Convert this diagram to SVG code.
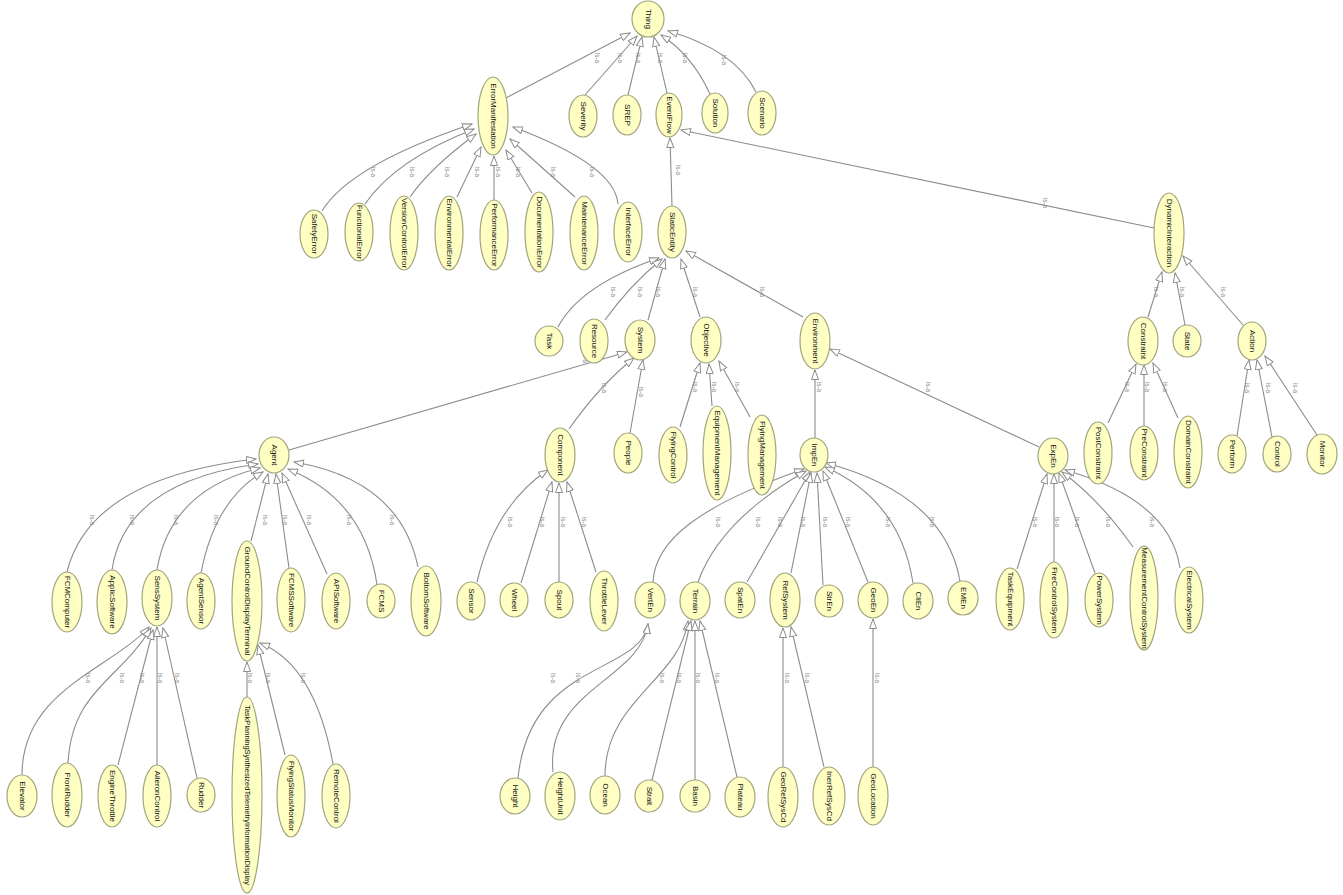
<svg xmlns="http://www.w3.org/2000/svg" width="1343" height="895" viewBox="0 0 1343 895">
<style>
.n ellipse{fill:#ffffc4;stroke:#a3a37c;stroke-width:1.2}
.n text{font-family:"Liberation Sans",Arial,sans-serif;font-size:8px;fill:#111;text-anchor:middle;dominant-baseline:central}
.e path{fill:none;stroke:#8c8c8c;stroke-width:1.1;marker-end:url(#a)}
.e text{font-family:"Liberation Sans",Arial,sans-serif;font-size:6.5px;fill:#8a8a8a;text-anchor:middle;dominant-baseline:central}
</style>
<defs>
<marker id="a" markerWidth="11" markerHeight="9" refX="10" refY="4" orient="auto" markerUnits="userSpaceOnUse">
<path d="M0.5,0.5 L10,4 L0.5,7.5 z" fill="#fff" stroke="#8c8c8c" stroke-width="1"/>
</marker>
</defs>
<rect width="1343" height="895" fill="#fff"/>
<g class="e" id="connectors">
<path d="M506,98 L630,33"/><text x="597" y="58" transform="rotate(90 597 58)">is-a</text>
<path d="M585,95 L637,36"/><text x="620" y="58" transform="rotate(90 620 58)">is-a</text>
<path d="M628,95 L642,37"/><text x="638" y="58" transform="rotate(90 638 58)">is-a</text>
<path d="M667,93 L654,37"/><text x="660" y="58" transform="rotate(90 660 58)">is-a</text>
<path d="M710,94 Q692,55 661,35"/><text x="685" y="58" transform="rotate(90 685 58)">is-a</text>
<path d="M756,92 Q735,50 668,31"/><text x="724" y="60" transform="rotate(90 724 60)">is-a</text>
<path d="M322,211 Q350,165 472,124"/><text x="373" y="172" transform="rotate(90 373 172)">is-a</text>
<path d="M365,204 Q395,160 474,129"/><text x="412" y="172" transform="rotate(90 412 172)">is-a</text>
<path d="M410,197 Q430,168 476,134"/><text x="447" y="172" transform="rotate(90 447 172)">is-a</text>
<path d="M457,197 L481,147"/><text x="477" y="172" transform="rotate(90 477 172)">is-a</text>
<path d="M494,200 L494,156"/><text x="498" y="172" transform="rotate(90 498 172)">is-a</text>
<path d="M532,193 L506,150"/><text x="518" y="172" transform="rotate(90 518 172)">is-a</text>
<path d="M575,197 L510,139"/><text x="553" y="172" transform="rotate(90 553 172)">is-a</text>
<path d="M618,204 Q615,165 513,127"/><text x="592" y="172" transform="rotate(90 592 172)">is-a</text>
<path d="M672,206 L670,138"/><text x="678" y="170" transform="rotate(90 678 170)">is-a</text>
<path d="M1154,228 L681,130"/><text x="1045" y="203" transform="rotate(90 1045 203)">is-a</text>
<path d="M558,327 Q580,285 659,258"/><text x="613" y="292" transform="rotate(90 613 292)">is-a</text>
<path d="M605,320 Q630,285 662,259"/><text x="640" y="292" transform="rotate(90 640 292)">is-a</text>
<path d="M648,320 L665,259"/><text x="658" y="292" transform="rotate(90 658 292)">is-a</text>
<path d="M700,317 L681,259"/><text x="695" y="292" transform="rotate(90 695 292)">is-a</text>
<path d="M803,317 L686,251"/><text x="762" y="292" transform="rotate(90 762 292)">is-a</text>
<path d="M1148,317 L1162,272"/><text x="1156" y="292" transform="rotate(90 1156 292)">is-a</text>
<path d="M1185,325 L1175,273"/><text x="1182" y="292" transform="rotate(90 1182 292)">is-a</text>
<path d="M1243,325 L1183,256"/><text x="1223" y="292" transform="rotate(90 1223 292)">is-a</text>
<path d="M1108,423 L1136,364"/><text x="1127" y="387" transform="rotate(90 1127 387)">is-a</text>
<path d="M1144,426 L1144,365"/><text x="1147" y="387" transform="rotate(90 1147 387)">is-a</text>
<path d="M1178,418 L1153,363"/><text x="1165" y="387" transform="rotate(90 1165 387)">is-a</text>
<path d="M1237,436 L1249,360"/><text x="1247" y="388" transform="rotate(90 1247 388)">is-a</text>
<path d="M1272,437 L1257,360"/><text x="1268" y="388" transform="rotate(90 1268 388)">is-a</text>
<path d="M1317,435 L1265,356"/><text x="1295" y="388" transform="rotate(90 1295 388)">is-a</text>
<path d="M289,450 L627,352"/><text x="585" y="358" transform="rotate(90 585 358)">is-a</text>
<path d="M569,429 Q600,385 634,358"/><text x="604" y="388" transform="rotate(90 604 388)">is-a</text>
<path d="M630,433 L643,360"/><text x="641" y="392" transform="rotate(90 641 392)">is-a</text>
<path d="M680,427 L700,363"/><text x="695" y="387" transform="rotate(90 695 387)">is-a</text>
<path d="M712,406 L709,364"/><text x="714" y="387" transform="rotate(90 714 387)">is-a</text>
<path d="M750,417 L719,361"/><text x="737" y="387" transform="rotate(90 737 387)">is-a</text>
<path d="M815,438 L815,370"/><text x="819" y="387" transform="rotate(90 819 387)">is-a</text>
<path d="M1039,447 L830,349"/><text x="928" y="387" transform="rotate(90 928 387)">is-a</text>
<path d="M67,572 Q90,478 256,459"/><text x="92" y="520" transform="rotate(90 92 520)">is-a</text>
<path d="M112,570 Q125,482 258,464"/><text x="132" y="520" transform="rotate(90 132 520)">is-a</text>
<path d="M157,570 Q170,490 260,468"/><text x="176" y="520" transform="rotate(90 176 520)">is-a</text>
<path d="M201,573 Q215,500 263,472"/><text x="216" y="520" transform="rotate(90 216 520)">is-a</text>
<path d="M251,541 L268,474"/><text x="265" y="520" transform="rotate(90 265 520)">is-a</text>
<path d="M289,568 L276,474"/><text x="285" y="520" transform="rotate(90 285 520)">is-a</text>
<path d="M327,574 L282,473"/><text x="309" y="520" transform="rotate(90 309 520)">is-a</text>
<path d="M377,585 Q365,500 288,469"/><text x="349" y="520" transform="rotate(90 349 520)">is-a</text>
<path d="M418,567 Q400,480 294,462"/><text x="392" y="520" transform="rotate(90 392 520)">is-a</text>
<path d="M477,582 Q495,505 548,470"/><text x="510" y="522" transform="rotate(90 510 522)">is-a</text>
<path d="M521,583 L552,482"/><text x="542" y="522" transform="rotate(90 542 522)">is-a</text>
<path d="M559,582 L559,483"/><text x="563" y="522" transform="rotate(90 563 522)">is-a</text>
<path d="M596,572 L567,482"/><text x="584" y="522" transform="rotate(90 584 522)">is-a</text>
<path d="M653,582 C655,540 700,505 804,469"/><text x="718" y="522" transform="rotate(90 718 522)">is-a</text>
<path d="M698,582 Q720,520 806,471"/><text x="758" y="522" transform="rotate(90 758 522)">is-a</text>
<path d="M747,582 L810,472"/><text x="780" y="522" transform="rotate(90 780 522)">is-a</text>
<path d="M791,573 L811,473"/><text x="803" y="522" transform="rotate(90 803 522)">is-a</text>
<path d="M823,585 L817,473"/><text x="825" y="522" transform="rotate(90 825 522)">is-a</text>
<path d="M868,582 L823,471"/><text x="848" y="522" transform="rotate(90 848 522)">is-a</text>
<path d="M913,583 Q900,500 825,467"/><text x="888" y="522" transform="rotate(90 888 522)">is-a</text>
<path d="M960,581 Q945,495 826,463"/><text x="932" y="522" transform="rotate(90 932 522)">is-a</text>
<path d="M1017,569 L1047,474"/><text x="1035" y="522" transform="rotate(90 1035 522)">is-a</text>
<path d="M1054,562 L1054,474"/><text x="1057" y="522" transform="rotate(90 1057 522)">is-a</text>
<path d="M1095,573 L1059,473"/><text x="1077" y="522" transform="rotate(90 1077 522)">is-a</text>
<path d="M1133,547 Q1100,500 1062,472"/><text x="1108" y="522" transform="rotate(90 1108 522)">is-a</text>
<path d="M1180,568 Q1170,500 1065,470"/><text x="1152" y="522" transform="rotate(90 1152 522)">is-a</text>
<path d="M22,775 C22,690 110,670 149,627"/><text x="88" y="678" transform="rotate(90 88 678)">is-a</text>
<path d="M68,763 C72,690 120,680 151,628"/><text x="122" y="678" transform="rotate(90 122 678)">is-a</text>
<path d="M118,765 L153,630"/><text x="142" y="678" transform="rotate(90 142 678)">is-a</text>
<path d="M157,765 L157,627"/><text x="160" y="678" transform="rotate(90 160 678)">is-a</text>
<path d="M197,778 L163,628"/><text x="177" y="678" transform="rotate(90 177 678)">is-a</text>
<path d="M247,697 L247,662"/><text x="250" y="678" transform="rotate(90 250 678)">is-a</text>
<path d="M285,755 L258,645"/><text x="268" y="678" transform="rotate(90 268 678)">is-a</text>
<path d="M333,764 Q315,665 260,643"/><text x="303" y="678" transform="rotate(90 303 678)">is-a</text>
<path d="M518,778 C530,660 640,675 648,624"/><text x="553" y="678" transform="rotate(90 553 678)">is-a</text>
<path d="M553,772 C545,690 640,680 648,624"/><text x="578" y="678" transform="rotate(90 578 678)">is-a</text>
<path d="M605,776 C605,700 680,680 688,621"/><text x="662" y="678" transform="rotate(90 662 678)">is-a</text>
<path d="M652,780 L691,621"/><text x="679" y="678" transform="rotate(90 679 678)">is-a</text>
<path d="M695,780 L695,621"/><text x="698" y="678" transform="rotate(90 698 678)">is-a</text>
<path d="M737,777 L700,621"/><text x="717" y="678" transform="rotate(90 717 678)">is-a</text>
<path d="M783,767 L783,628"/><text x="787" y="678" transform="rotate(90 787 678)">is-a</text>
<path d="M824,767 L791,627"/><text x="807" y="678" transform="rotate(90 807 678)">is-a</text>
<path d="M873,767 L873,619"/><text x="877" y="678" transform="rotate(90 877 678)">is-a</text>
</g>
<g class="n" id="Thing"><ellipse cx="648" cy="19" rx="16" ry="18"/><text x="648" y="19" transform="rotate(90 648 19)">Thing</text></g>
<g class="n" id="ErrorManifestation"><ellipse cx="493" cy="116" rx="15" ry="39"/><text x="493" y="116" transform="rotate(90 493 116)">ErrorManifestation</text></g>
<g class="n" id="Severity"><ellipse cx="583" cy="116" rx="14" ry="21"/><text x="583" y="116" transform="rotate(90 583 116)">Severity</text></g>
<g class="n" id="SREP"><ellipse cx="627" cy="115" rx="14" ry="20"/><text x="627" y="115" transform="rotate(90 627 115)">SREP</text></g>
<g class="n" id="EventFlow"><ellipse cx="669" cy="115" rx="13" ry="22"/><text x="669" y="115" transform="rotate(90 669 115)">EventFlow</text></g>
<g class="n" id="Solution"><ellipse cx="715" cy="113" rx="13" ry="20"/><text x="715" y="113" transform="rotate(90 715 113)">Solution</text></g>
<g class="n" id="Scenario"><ellipse cx="762" cy="113" rx="14" ry="22"/><text x="762" y="113" transform="rotate(90 762 113)">Scenario</text></g>
<g class="n" id="SafetyError"><ellipse cx="314" cy="234" rx="14" ry="24"/><text x="314" y="234" transform="rotate(90 314 234)">SafetyError</text></g>
<g class="n" id="FunctionalError"><ellipse cx="359" cy="232" rx="14" ry="29"/><text x="359" y="232" transform="rotate(90 359 232)">FunctionalError</text></g>
<g class="n" id="VersionControlError"><ellipse cx="404" cy="233" rx="14" ry="37"/><text x="404" y="233" transform="rotate(90 404 233)">VersionControlError</text></g>
<g class="n" id="EnvironmentalError"><ellipse cx="449" cy="233" rx="14" ry="37"/><text x="449" y="233" transform="rotate(90 449 233)">EnvironmentalError</text></g>
<g class="n" id="PerformanceError"><ellipse cx="494" cy="235" rx="14" ry="35"/><text x="494" y="235" transform="rotate(90 494 235)">PerformanceError</text></g>
<g class="n" id="DocumentationError"><ellipse cx="539" cy="232" rx="14" ry="40"/><text x="539" y="232" transform="rotate(90 539 232)">DocumentationError</text></g>
<g class="n" id="MaintenanceError"><ellipse cx="584" cy="233" rx="14" ry="37"/><text x="584" y="233" transform="rotate(90 584 233)">MaintenanceError</text></g>
<g class="n" id="InterfaceError"><ellipse cx="628" cy="232" rx="14" ry="30"/><text x="628" y="232" transform="rotate(90 628 232)">InterfaceError</text></g>
<g class="n" id="StaticEntity"><ellipse cx="672" cy="232" rx="14" ry="26"/><text x="672" y="232" transform="rotate(90 672 232)">StaticEntity</text></g>
<g class="n" id="DynamicInteraction"><ellipse cx="1169" cy="233" rx="15" ry="40"/><text x="1169" y="233" transform="rotate(90 1169 233)">DynamicInteraction</text></g>
<g class="n" id="Task"><ellipse cx="549" cy="341" rx="14" ry="15"/><text x="549" y="341" transform="rotate(90 549 341)">Task</text></g>
<g class="n" id="Resource"><ellipse cx="594" cy="341" rx="14" ry="22"/><text x="594" y="341" transform="rotate(90 594 341)">Resource</text></g>
<g class="n" id="System"><ellipse cx="640" cy="340" rx="15" ry="20"/><text x="640" y="340" transform="rotate(90 640 340)">System</text></g>
<g class="n" id="Objective"><ellipse cx="706" cy="340" rx="15" ry="23"/><text x="706" y="340" transform="rotate(90 706 340)">Objective</text></g>
<g class="n" id="Environment"><ellipse cx="815" cy="341" rx="15" ry="28"/><text x="815" y="341" transform="rotate(90 815 341)">Environment</text></g>
<g class="n" id="Constraint"><ellipse cx="1143" cy="341" rx="15" ry="24"/><text x="1143" y="341" transform="rotate(90 1143 341)">Constraint</text></g>
<g class="n" id="State"><ellipse cx="1187" cy="341" rx="14" ry="16"/><text x="1187" y="341" transform="rotate(90 1187 341)">State</text></g>
<g class="n" id="Action"><ellipse cx="1252" cy="341" rx="14" ry="19"/><text x="1252" y="341" transform="rotate(90 1252 341)">Action</text></g>
<g class="n" id="PostConstraint"><ellipse cx="1098" cy="453" rx="14" ry="31"/><text x="1098" y="453" transform="rotate(90 1098 453)">PostConstraint</text></g>
<g class="n" id="PreConstraint"><ellipse cx="1144" cy="453" rx="14" ry="27"/><text x="1144" y="453" transform="rotate(90 1144 453)">PreConstraint</text></g>
<g class="n" id="DomainConstraint"><ellipse cx="1188" cy="452" rx="14" ry="36"/><text x="1188" y="452" transform="rotate(90 1188 452)">DomainConstraint</text></g>
<g class="n" id="Perform"><ellipse cx="1232" cy="454" rx="14" ry="19"/><text x="1232" y="454" transform="rotate(90 1232 454)">Perform</text></g>
<g class="n" id="Control"><ellipse cx="1277" cy="454" rx="14" ry="18"/><text x="1277" y="454" transform="rotate(90 1277 454)">Control</text></g>
<g class="n" id="Monitor"><ellipse cx="1322" cy="454" rx="15" ry="20"/><text x="1322" y="454" transform="rotate(90 1322 454)">Monitor</text></g>
<g class="n" id="Agent"><ellipse cx="274" cy="455" rx="15" ry="18"/><text x="274" y="455" transform="rotate(90 274 455)">Agent</text></g>
<g class="n" id="Component"><ellipse cx="560" cy="455" rx="15" ry="27"/><text x="560" y="455" transform="rotate(90 560 455)">Component</text></g>
<g class="n" id="People"><ellipse cx="628" cy="453" rx="14" ry="20"/><text x="628" y="453" transform="rotate(90 628 453)">People</text></g>
<g class="n" id="FlyingControl"><ellipse cx="673" cy="455" rx="14" ry="28"/><text x="673" y="455" transform="rotate(90 673 455)">FlyingControl</text></g>
<g class="n" id="EquipmentManagement"><ellipse cx="717" cy="453" rx="14" ry="47"/><text x="717" y="453" transform="rotate(90 717 453)">EquipmentManagement</text></g>
<g class="n" id="FlyingManagement"><ellipse cx="762" cy="455" rx="14" ry="40"/><text x="762" y="455" transform="rotate(90 762 455)">FlyingManagement</text></g>
<g class="n" id="ImpEn"><ellipse cx="814" cy="455" rx="14" ry="17"/><text x="814" y="455" transform="rotate(90 814 455)">ImpEn</text></g>
<g class="n" id="ExpEn"><ellipse cx="1053" cy="456" rx="15" ry="18"/><text x="1053" y="456" transform="rotate(90 1053 456)">ExpEn</text></g>
<g class="n" id="FCMComputer"><ellipse cx="67" cy="602" rx="15" ry="30"/><text x="67" y="602" transform="rotate(90 67 602)">FCMComputer</text></g>
<g class="n" id="ApplicSoftware"><ellipse cx="112" cy="602" rx="15" ry="32"/><text x="112" y="602" transform="rotate(90 112 602)">ApplicSoftware</text></g>
<g class="n" id="SensSystem"><ellipse cx="157" cy="598" rx="15" ry="28"/><text x="157" y="598" transform="rotate(90 157 598)">SensSystem</text></g>
<g class="n" id="AgentSensor"><ellipse cx="201" cy="601" rx="14" ry="28"/><text x="201" y="601" transform="rotate(90 201 601)">AgentSensor</text></g>
<g class="n" id="GroundControlDisplayTerminal"><ellipse cx="247" cy="601" rx="15" ry="60"/><text x="247" y="601" transform="rotate(90 247 601)">GroundControlDisplayTerminal</text></g>
<g class="n" id="FCMSSoftware"><ellipse cx="291" cy="600" rx="14" ry="32"/><text x="291" y="600" transform="rotate(90 291 600)">FCMSSoftware</text></g>
<g class="n" id="APISoftware"><ellipse cx="336" cy="601" rx="14" ry="28"/><text x="336" y="601" transform="rotate(90 336 601)">APISoftware</text></g>
<g class="n" id="FCMS"><ellipse cx="381" cy="601" rx="14" ry="17"/><text x="381" y="601" transform="rotate(90 381 601)">FCMS</text></g>
<g class="n" id="BottomSoftware"><ellipse cx="426" cy="601" rx="15" ry="35"/><text x="426" y="601" transform="rotate(90 426 601)">BottomSoftware</text></g>
<g class="n" id="Sensor"><ellipse cx="471" cy="601" rx="14" ry="19"/><text x="471" y="601" transform="rotate(90 471 601)">Sensor</text></g>
<g class="n" id="Wheel"><ellipse cx="514" cy="600" rx="14" ry="17"/><text x="514" y="600" transform="rotate(90 514 600)">Wheel</text></g>
<g class="n" id="Spout"><ellipse cx="559" cy="600" rx="14" ry="18"/><text x="559" y="600" transform="rotate(90 559 600)">Spout</text></g>
<g class="n" id="ThrottleLever"><ellipse cx="604" cy="601" rx="14" ry="30"/><text x="604" y="601" transform="rotate(90 604 601)">ThrottleLever</text></g>
<g class="n" id="VertEn"><ellipse cx="650" cy="600" rx="15" ry="18"/><text x="650" y="600" transform="rotate(90 650 600)">VertEn</text></g>
<g class="n" id="Terrain"><ellipse cx="695" cy="601" rx="15" ry="19"/><text x="695" y="601" transform="rotate(90 695 601)">Terrain</text></g>
<g class="n" id="SpatEn"><ellipse cx="740" cy="600" rx="15" ry="18"/><text x="740" y="600" transform="rotate(90 740 600)">SpatEn</text></g>
<g class="n" id="RefSystem"><ellipse cx="785" cy="600" rx="15" ry="27"/><text x="785" y="600" transform="rotate(90 785 600)">RefSystem</text></g>
<g class="n" id="StrEn"><ellipse cx="829" cy="601" rx="14" ry="16"/><text x="829" y="601" transform="rotate(90 829 601)">StrEn</text></g>
<g class="n" id="GeoEn"><ellipse cx="873" cy="600" rx="15" ry="18"/><text x="873" y="600" transform="rotate(90 873 600)">GeoEn</text></g>
<g class="n" id="CliEn"><ellipse cx="918" cy="601" rx="15" ry="18"/><text x="918" y="601" transform="rotate(90 918 601)">CliEn</text></g>
<g class="n" id="EMEn"><ellipse cx="963" cy="598" rx="15" ry="17"/><text x="963" y="598" transform="rotate(90 963 598)">EMEn</text></g>
<g class="n" id="TaskEquipment"><ellipse cx="1010" cy="599" rx="14" ry="31"/><text x="1010" y="599" transform="rotate(90 1010 599)">TaskEquipment</text></g>
<g class="n" id="FireControlSystem"><ellipse cx="1054" cy="600" rx="14" ry="38"/><text x="1054" y="600" transform="rotate(90 1054 600)">FireControlSystem</text></g>
<g class="n" id="PowerSystem"><ellipse cx="1099" cy="600" rx="14" ry="27"/><text x="1099" y="600" transform="rotate(90 1099 600)">PowerSystem</text></g>
<g class="n" id="MeasurementControlSystem"><ellipse cx="1144" cy="598" rx="14" ry="52"/><text x="1144" y="598" transform="rotate(90 1144 598)">MeasurementControlSystem</text></g>
<g class="n" id="ElectricalSystem"><ellipse cx="1189" cy="600" rx="14" ry="33"/><text x="1189" y="600" transform="rotate(90 1189 600)">ElectricalSystem</text></g>
<g class="n" id="Elevator"><ellipse cx="22" cy="796" rx="15" ry="21"/><text x="22" y="796" transform="rotate(90 22 796)">Elevator</text></g>
<g class="n" id="FrontRudder"><ellipse cx="67" cy="795" rx="15" ry="32"/><text x="67" y="795" transform="rotate(90 67 795)">FrontRudder</text></g>
<g class="n" id="EngineThrottle"><ellipse cx="112" cy="796" rx="14" ry="31"/><text x="112" y="796" transform="rotate(90 112 796)">EngineThrottle</text></g>
<g class="n" id="AileronControl"><ellipse cx="157" cy="796" rx="14" ry="31"/><text x="157" y="796" transform="rotate(90 157 796)">AileronControl</text></g>
<g class="n" id="Rudder"><ellipse cx="201" cy="795" rx="14" ry="17"/><text x="201" y="795" transform="rotate(90 201 795)">Rudder</text></g>
<g class="n" id="TaskPlanningSynthesizedTelemetryInformationDisplay"><ellipse cx="247" cy="795" rx="15" ry="98"/><text x="247" y="795" transform="rotate(90 247 795)" style="font-size:7.5px">TaskPlanningSynthesizedTelemetryInformationDisplay</text></g>
<g class="n" id="FlyingStatusMonitor"><ellipse cx="291" cy="796" rx="14" ry="41"/><text x="291" y="796" transform="rotate(90 291 796)">FlyingStatusMonitor</text></g>
<g class="n" id="RemoteControl"><ellipse cx="336" cy="796" rx="14" ry="32"/><text x="336" y="796" transform="rotate(90 336 796)">RemoteControl</text></g>
<g class="n" id="Height"><ellipse cx="515" cy="796" rx="15" ry="18"/><text x="515" y="796" transform="rotate(90 515 796)">Height</text></g>
<g class="n" id="HeightUnit"><ellipse cx="560" cy="796" rx="15" ry="24"/><text x="560" y="796" transform="rotate(90 560 796)">HeightUnit</text></g>
<g class="n" id="Ocean"><ellipse cx="605" cy="795" rx="15" ry="19"/><text x="605" y="795" transform="rotate(90 605 795)">Ocean</text></g>
<g class="n" id="Strait"><ellipse cx="649" cy="796" rx="14" ry="16"/><text x="649" y="796" transform="rotate(90 649 796)">Strait</text></g>
<g class="n" id="Basin"><ellipse cx="695" cy="796" rx="15" ry="16"/><text x="695" y="796" transform="rotate(90 695 796)">Basin</text></g>
<g class="n" id="Plateau"><ellipse cx="740" cy="797" rx="15" ry="20"/><text x="740" y="797" transform="rotate(90 740 797)">Plateau</text></g>
<g class="n" id="GeoRefSysCd"><ellipse cx="783" cy="797" rx="15" ry="30"/><text x="783" y="797" transform="rotate(90 783 797)">GeoRefSysCd</text></g>
<g class="n" id="InerRefSysCd"><ellipse cx="829" cy="796" rx="16" ry="29"/><text x="829" y="796" transform="rotate(90 829 796)">InerRefSysCd</text></g>
<g class="n" id="GeoLocation"><ellipse cx="873" cy="796" rx="15" ry="29"/><text x="873" y="796" transform="rotate(90 873 796)">GeoLocation</text></g>
</svg>
